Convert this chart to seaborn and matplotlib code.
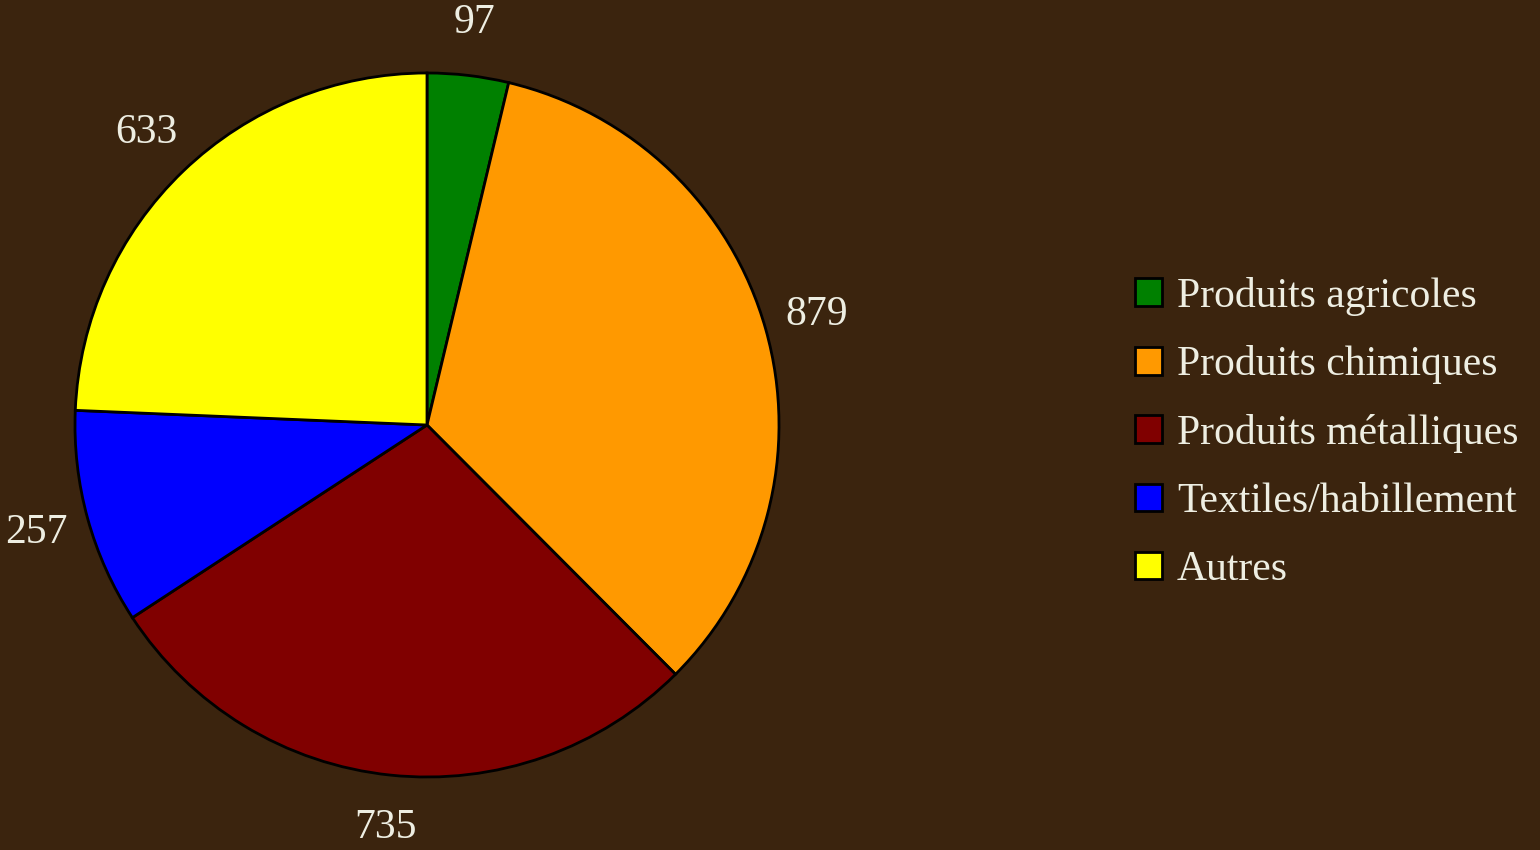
"""Pie chart of product categories on a dark brown background."""

import matplotlib
matplotlib.use("Agg")
import matplotlib.pyplot as plt
import seaborn as sns

# data
categories = ["Produits agricoles", "Produits chimiques", "Produits métalliques",
              "Textiles/habillement", "Autres"]
values = [97, 879, 735, 257, 633]
colors = ["#008000", "#FF9900", "#800000", "#0000FF", "#FFFF00"]

BG = "#3B240E"
TEXT = "#EEEEE2"

sns.set_style("white")
plt.rcParams["font.family"] = ["Liberation Serif", "DejaVu Serif"]

fig = plt.figure(figsize=(15.4, 8.5), dpi=100, facecolor=BG)
# pie centre ~ (427, 425) px, radius ~352 px
ax = fig.add_axes([75 / 1540, (850 - 425 - 352) / 850, 704 / 1540, 704 / 850])
ax.set_facecolor(BG)

wedges, texts = ax.pie(
    values,
    colors=sns.color_palette(colors),
    labels=[str(v) for v in values],
    labeldistance=1.15,
    startangle=90,
    counterclock=False,
    wedgeprops={"edgecolor": "black", "linewidth": 2},
    textprops={"color": TEXT, "fontsize": 30},
)
for t in texts:
    t.set_horizontalalignment("center")
    t.set_verticalalignment("center")

ax.set_xlim(-1, 1)
ax.set_ylim(-1, 1)
ax.set_aspect("equal")

leg = fig.legend(
    wedges, categories,
    loc="center left",
    bbox_to_anchor=(1135 / 1540, (850 - 433) / 850),
    frameon=False,
    fontsize=30,
    labelcolor=TEXT,
    borderpad=0,
    borderaxespad=0,
    handlelength=0.65,
    handleheight=0.65,
    handletextpad=0.36,
    labelspacing=0.71,
)

fig.savefig("out.png", dpi=100, facecolor=BG)
